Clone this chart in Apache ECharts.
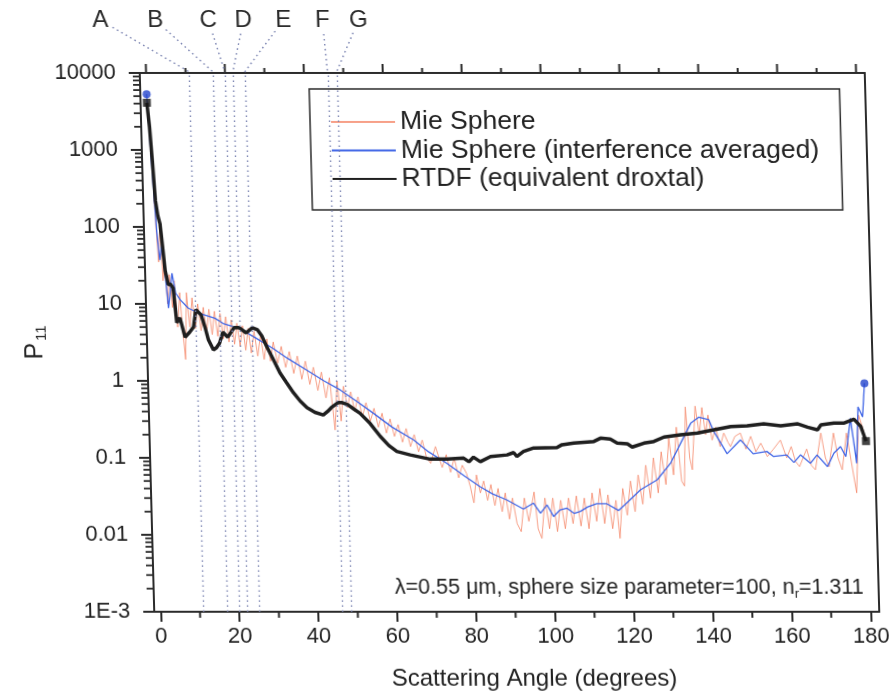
<!DOCTYPE html>
<html>
<head>
<meta charset="utf-8">
<script src="https://cdn.jsdelivr.net/npm/echarts@6/dist/echarts.min.js"></script>
<style>
  html, body { margin: 0; padding: 0; background: #fff; overflow: hidden; }
  /* the printed figure leans slightly: its frame drifts right toward the bottom */
  #chart { width: 891px; height: 697px; transform: skewX(1.54deg); transform-origin: 0 342.5px; }
</style>
</head>
<body>
<div id="chart"></div>
<script>
// ---- Phase function P11 versus scattering angle ----

// Mie sphere (full interference structure)
const mieAngle = [0, 0.5, 1.0, 1.5, 1.9, 2.4, 2.9, 3.4, 3.9, 4.5, 5.1, 5.7, 6.3, 7.0, 7.6, 8.1, 8.7, 9.4, 10.1, 10.8,
  11.5, 12.2, 12.9, 13.6, 14.3, 15.0, 15.7, 16.4, 17.1, 17.8, 18.5, 19.2, 19.9, 20.6, 21.3, 22.0, 22.7, 23.4, 24.1, 24.8,
  25.6, 26.4, 27.2, 28.0, 28.8, 29.6, 30.4, 31.4, 32.4, 33.4, 34.4, 35.4, 36.4, 37.4, 38.4, 39.4, 40.4, 41.4, 42.4, 43.4,
  44.4, 45.5, 46.3, 47.1, 47.9, 48.8, 49.7, 50.6, 51.5, 52.5, 53.5, 54.5, 55.5, 56.5, 57.5, 58.5, 59.5, 60.5, 61.5, 62.5,
  63.5, 64.5, 65.5, 66.5, 67.5, 68.5, 69.5, 70.8, 72.4, 73.5, 74.5, 75.5, 76.5, 77.5, 78.5, 79.4, 80.2, 81.0, 81.9, 82.8,
  83.7, 84.6, 85.5, 86.4, 87.3, 88.2, 89.1, 90.0, 91.0, 92.0, 93.0, 94.0, 95.5, 96.3, 97.2, 98.2, 99.2, 100.2, 101.2, 102.2,
  103.2, 104.2, 105.2, 106.2, 107.2, 108.2, 109.2, 110.2, 111.2, 112.2, 113.2, 114.2, 115.2, 116.2, 117.0, 118.0, 119.0, 120.0, 121.0, 122.0,
  123.0, 124.0, 125.0, 126.0, 127.0, 128.0, 129.0, 130.0, 131.0, 132.0, 133.0, 133.7, 134.4, 135.2, 135.8, 136.9, 137.8, 138.6, 139.4, 140.1,
  141.0, 142.0, 143.0, 144.0, 145.0, 145.6, 146.8, 148.2, 149.5, 150.8, 152.0, 153.3, 154.9, 156.5, 158.3, 159.8, 161.0, 162.0, 163.0, 164.9,
  166.0, 167.0, 168.6, 169.6, 170.5, 171.8, 172.8, 173.8, 175.1, 176.0, 177.3, 178.3, 179.2, 180.0];
const mieValue = [5300, 2000, 400, 90, 35, 100, 20, 35, 10, 24, 9, 20, 5, 14, 4, 1.9, 14, 5, 12, 4.8,
  10, 4.5, 9, 4.2, 8.5, 4, 8, 3.8, 7.5, 3.5, 6.8, 3.2, 6.2, 3, 5.6, 2.8, 5.2, 2.5, 4.8, 2.3,
  4.4, 2.1, 3.9, 1.9, 3.5, 1.8, 3.2, 1.7, 2.8, 1.5, 2.4, 1.25, 2.1, 1.05, 1.8, 0.9, 1.5, 0.75, 1.3, 0.6,
  1.1, 0.23, 1.0, 0.3, 0.85, 0.45, 0.72, 0.4, 0.62, 0.34, 0.52, 0.3, 0.44, 0.25, 0.38, 0.21, 0.32, 0.19, 0.27, 0.16,
  0.24, 0.14, 0.2, 0.12, 0.17, 0.1, 0.085, 0.14, 0.075, 0.11, 0.065, 0.1, 0.055, 0.08, 0.063, 0.042, 0.026, 0.06, 0.035, 0.05,
  0.028, 0.045, 0.024, 0.04, 0.02, 0.035, 0.016, 0.03, 0.014, 0.011, 0.03, 0.015, 0.036, 0.012, 0.009, 0.03, 0.012, 0.03, 0.011, 0.028,
  0.012, 0.03, 0.014, 0.032, 0.013, 0.03, 0.012, 0.035, 0.015, 0.04, 0.014, 0.033, 0.012, 0.028, 0.009, 0.04, 0.018, 0.05, 0.02, 0.06,
  0.025, 0.08, 0.03, 0.1, 0.035, 0.12, 0.045, 0.18, 0.06, 0.25, 0.05, 0.043, 0.46, 0.1, 0.07, 0.47, 0.2, 0.45, 0.2, 0.36,
  0.17, 0.25, 0.14, 0.21, 0.16, 0.14, 0.19, 0.21, 0.13, 0.19, 0.12, 0.155, 0.104, 0.13, 0.17, 0.1, 0.14, 0.09, 0.077, 0.13,
  0.08, 0.07, 0.21, 0.1, 0.077, 0.21, 0.1, 0.07, 0.21, 0.1, 0.035, 0.36, 0.25, 0.17];

// Mie sphere with the interference ripple averaged out
const avgAngle = [0, 0.8, 1.6, 2.2, 2.8, 3.5, 4.1, 5.2, 6.0, 7.1, 9.1, 12.0, 15.8, 18.0, 21.9, 26.0, 30.2, 34.0, 38.6, 43.0,
  47.1, 51.0, 55.3, 60.0, 65.3, 69.0, 73.6, 78.0, 81.9, 85.0, 88.5, 92.7, 95.3, 97.0, 98.7, 100.3, 102.0, 103.7, 105.5, 107.1,
  109.0, 111.3, 113.9, 116.8, 118.9, 122.5, 126.8, 130.3, 133.0, 135.7, 137.8, 140.3, 141.5, 144.7, 148.2, 151.3, 154.8, 156.5, 159.8, 161.6,
  163.3, 165.8, 167.5, 170.1, 171.8, 173.5, 174.8, 176.2, 177.5, 178.2, 179.3, 180.0];
const avgValue = [5300, 600, 91, 37, 60, 22.6, 8.8, 25, 13.8, 11.3, 8.8, 7.5, 6.5, 5.5, 4.8, 3.6, 2.66, 1.95, 1.39, 1.0,
  0.76, 0.55, 0.38, 0.25, 0.171, 0.12, 0.085, 0.058, 0.042, 0.034, 0.0285, 0.0216, 0.0258, 0.0191, 0.0245, 0.0173, 0.0211, 0.0222, 0.019, 0.0201,
  0.023, 0.0253, 0.0253, 0.0207, 0.0258, 0.0384, 0.0518, 0.085, 0.155, 0.282, 0.338, 0.312, 0.22, 0.113, 0.171, 0.113, 0.121, 0.104, 0.109, 0.087,
  0.109, 0.085, 0.109, 0.077, 0.115, 0.14, 0.104, 0.327, 0.085, 0.46, 0.34, 0.93];

// RTDF result for the equivalent droxtal
const rtdfAngle = [0, 0.5, 1.0, 1.5, 2.0, 2.5, 3.0, 3.5, 4.2, 4.8, 5.4, 6.1, 6.9, 8.1, 9.3, 10.3, 11.0, 12.3, 13.2, 14.0,
  15.2, 16.0, 16.8, 17.7, 18.9, 20.6, 21.9, 23.6, 25.2, 26.5, 27.6, 28.7, 30.3, 31.9, 33.5, 35.2, 36.8, 38.5, 40.5, 42.6,
  43.7, 44.7, 46.4, 47.5, 48.9, 50.4, 51.9, 54.4, 56.9, 59.0, 61.0, 64.4, 69.4, 73.7, 77.9, 79.2, 80.4, 82.1, 84.7, 88.9,
  90.6, 91.4, 93.1, 95.7, 101.6, 102.9, 105.9, 111.0, 112.7, 115.2, 116.9, 119.5, 120.7, 123.7, 126.2, 128.8, 133.0, 137.3, 141.5, 145.8,
  150.0, 154.2, 158.5, 162.7, 165.3, 167.8, 168.7, 172.0, 174.6, 177.1, 178.8, 180.0];
const rtdfValue = [4100, 2000, 700, 220, 140, 110, 55, 27, 17.8, 18, 16, 5.7, 6.6, 3.7, 4.3, 5, 8.4, 7.2, 5, 3.4,
  2.53, 2.7, 3.1, 4.3, 3.7, 4.9, 4.9, 4.2, 4.9, 4.6, 3.8, 2.8, 1.9, 1.27, 0.95, 0.70, 0.55, 0.45, 0.39, 0.36,
  0.40, 0.45, 0.52, 0.52, 0.49, 0.43, 0.38, 0.28, 0.19, 0.145, 0.121, 0.109, 0.096, 0.096, 0.099, 0.089, 0.102, 0.089, 0.104, 0.109,
  0.117, 0.104, 0.121, 0.134, 0.136, 0.148, 0.155, 0.163, 0.180, 0.175, 0.155, 0.152, 0.138, 0.155, 0.163, 0.186, 0.199, 0.21, 0.231, 0.255,
  0.26, 0.277, 0.26, 0.277, 0.25, 0.231, 0.269, 0.283, 0.283, 0.318, 0.255, 0.165];

// Reference angles marked A-G
const markNames = ['A', 'B', 'C', 'D', 'E', 'F', 'G'];
const markAngles = [11, 17, 20, 22, 25, 46, 48.3];

// Axis ticks and labels
const xMajorTicks = [0, 20, 40, 60, 80, 100, 120, 140, 160, 180];
const xMinorTicks = [10, 30, 50, 70, 90, 110, 130, 150, 170];
const yTickLabels = ['1E-3', '0.01', '0.1', '1', '10', '100', '1000', '10000'];

const seriesNames = ['Mie Sphere', 'Mie Sphere (interference averaged)', 'RTDF (equivalent droxtal)'];

const FONT = '"Liberation Sans", Arial, Helvetica, sans-serif';
const INK = '#2b2b2b';
const X_MIN = -1.6, X_MAX = 182.2;
const GRID = { left: 147, top: 73, width: 725, height: 539 };

const zip = (a, b) => a.map((v, i) => [v, b[i]]);
const ends = (a, b) => [[a[0], b[0]], [a[a.length - 1], b[b.length - 1]]];

// 2..9 minor tick values in every decade of the log axis
const yMinorValues = [];
for (let d = -3; d < 4; d++) {
  for (let m = 2; m <= 9; m++) yMinorValues.push(m * Math.pow(10, d));
}

const chart = echarts.init(document.getElementById('chart'));

const frameLine = { show: true, onZero: false, lineStyle: { color: INK, width: 2 } };

// Tick marks drawn as small filled bars by a custom series, positioned through the axes.
// kind: 0 = left log minor, 1 = bottom minor, 2 = top minor, 3 = top major
const tickData = []
  .concat(yMinorValues.map(v => [X_MIN, v, 0]))
  .concat(xMinorTicks.map(v => [v, 1e-3, 1]))
  .concat(xMinorTicks.map(v => [v, 1e4, 2]))
  .concat(xMajorTicks.map(v => [v, 1e4, 3]));

function renderTick(params, api) {
  const p = api.coord([api.value(0), api.value(1)]);
  const kind = api.value(2);
  let shape;
  if (kind === 0) shape = { x: p[0] - 7, y: p[1] - 0.9, width: 7, height: 1.8 };
  else if (kind === 1) shape = { x: p[0] - 1, y: p[1], width: 2, height: 6 };
  else if (kind === 2) shape = { x: p[0] - 1, y: p[1] - 5, width: 2, height: 5 };
  else shape = { x: p[0] - 1, y: p[1] - 9, width: 2, height: 9 };
  return { type: 'rect', shape: shape, style: { fill: INK } };
}

const option = {
  animation: false,
  backgroundColor: '#fff',
  textStyle: { fontFamily: FONT },
  grid: Object.assign({ containLabel: false }, GRID),
  legend: {
    data: seriesNames,
    orient: 'vertical',
    left: 316,
    top: 89,
    padding: [19, 22, 17, 20],
    itemWidth: 64,
    itemHeight: 14,
    itemGap: 0.5,
    backgroundColor: '#fff',
    borderColor: INK,
    borderWidth: 1.5,
    borderRadius: 0,
    itemStyle: { opacity: 0 },
    textStyle: { fontFamily: FONT, fontSize: 26.5, color: '#222', lineHeight: 28 },
    selectedMode: false
  },
  xAxis: [
    {
      type: 'value', position: 'bottom', min: X_MIN, max: X_MAX,
      axisLine: frameLine,
      axisTick: { show: true, inside: false, customValues: xMajorTicks, length: 10, lineStyle: { color: INK, width: 2 } },
      axisLabel: { show: true, customValues: xMajorTicks, fontFamily: FONT, fontSize: 22, color: '#222', margin: 14 },
      splitLine: { show: false },
      name: 'Scattering Angle (degrees)',
      nameLocation: 'middle',
      nameGap: 55,
      nameTextStyle: { fontFamily: FONT, fontSize: 24, color: '#222', padding: [0, 0, 0, 32] }
    },
    {
      type: 'value', position: 'top', min: X_MIN, max: X_MAX,
      axisLine: frameLine,
      axisTick: { show: false }, axisLabel: { show: false }, splitLine: { show: false }
    }
  ],
  yAxis: [
    {
      type: 'log', logBase: 10, position: 'left', min: 1e-3, max: 1e4,
      axisLine: frameLine,
      axisTick: { show: true, inside: false, length: 11, lineStyle: { color: INK, width: 2 } },
      axisLabel: {
        show: true, fontFamily: FONT, fontSize: 22, color: '#222', margin: 24,
        formatter: v => yTickLabels[Math.round(Math.log10(v)) + 3]
      },
      splitLine: { show: false },
      name: '{p|P}{s|11}',
      nameLocation: 'middle',
      nameRotate: 90,
      nameGap: 98,
      nameTextStyle: {
        rich: {
          p: { fontFamily: FONT, fontSize: 25, color: '#222' },
          s: { fontFamily: FONT, fontSize: 15, color: '#222', padding: [12, 0, 0, 2] }
        }
      }
    },
    {
      type: 'value', position: 'right', min: 0, max: 1,
      axisLine: frameLine,
      axisTick: { show: false }, axisLabel: { show: false }, splitLine: { show: false }
    }
  ],
  series: [
    {
      name: seriesNames[0], type: 'line', xAxisIndex: 0, yAxisIndex: 0,
      data: zip(mieAngle, mieValue),
      symbol: 'none', z: 2,
      lineStyle: { color: '#f5886a', width: 1, opacity: 0.8 },
      itemStyle: { color: '#f5886a' },
      markLine: {
        silent: true, symbol: 'none', animation: false,
        label: { show: false },
        lineStyle: { color: '#7d86b3', width: 1.4, type: [1.6, 3.4] },
        data: markAngles.map(a => ({ xAxis: a }))
      }
    },
    {
      name: seriesNames[1], type: 'line', xAxisIndex: 0, yAxisIndex: 0,
      data: zip(avgAngle, avgValue),
      symbol: 'none', z: 3,
      lineStyle: { color: '#4166e6', width: 1.3 },
      itemStyle: { color: '#4166e6' }
    },
    {
      name: seriesNames[2], type: 'line', xAxisIndex: 0, yAxisIndex: 0,
      data: zip(rtdfAngle, rtdfValue),
      symbol: 'none', z: 4,
      lineStyle: { color: '#1f1f1f', width: 3.5 },
      itemStyle: { color: '#1f1f1f' }
    },
    {
      type: 'scatter', xAxisIndex: 0, yAxisIndex: 0, z: 5,
      data: ends(avgAngle, avgValue),
      symbol: 'circle', symbolSize: 8,
      itemStyle: { color: '#2445cc' }
    },
    {
      type: 'scatter', xAxisIndex: 0, yAxisIndex: 0, z: 6,
      data: ends(rtdfAngle, rtdfValue),
      symbol: 'rect', symbolSize: 8,
      itemStyle: { color: '#151515' }
    },
    {
      type: 'custom', xAxisIndex: 0, yAxisIndex: 0, z: 7,
      silent: true, clip: false,
      data: tickData,
      renderItem: renderTick
    }
  ]
};

chart.setOption(option);

const graphics = [];

// Letter tags above the frame, each joined by a dotted leader to its angle on the top axis
const tagX = [109, 164, 217, 252, 292, 331, 367];
const tagY = 20;
markNames.forEach((name, i) => {
  const xTop = chart.convertToPixel({ seriesIndex: 2 }, [markAngles[i], 1])[0];
  const dx = xTop - tagX[i], dy = GRID.top - tagY;
  const len = Math.sqrt(dx * dx + dy * dy);
  const sx = tagX[i] + dx / len * 14, sy = tagY + dy / len * 14;
  graphics.push({
    type: 'text', id: 'tag' + i, x: tagX[i], y: tagY, z: 10,
    style: { text: name, font: '24px ' + FONT, fill: '#2b2b2b', align: 'center', verticalAlign: 'middle' }
  });
  graphics.push({
    type: 'line', id: 'leader' + i, z: 10, silent: true,
    shape: { x1: sx, y1: sy, x2: xTop, y2: GRID.top - 1 },
    style: { stroke: '#7d86b3', lineWidth: 1.4, lineDash: [1.6, 3.4] }
  });
});

// Simulation parameters, lower right inside the frame
graphics.push({
  type: 'text', id: 'params', right: 34, top: 577, z: 10,
  style: {
    text: '{a|\u03bb=0.55 \u03bcm, sphere size parameter=100, n}{s|r}{a|=1.311}',
    rich: {
      a: { fontFamily: FONT, fontSize: 21.5, fill: '#222', color: '#222' },
      s: { fontFamily: FONT, fontSize: 13, fill: '#222', color: '#222', padding: [13, 0, 0, 0] }
    }
  }
});

chart.setOption({ graphic: graphics });
</script>
</body>
</html>
